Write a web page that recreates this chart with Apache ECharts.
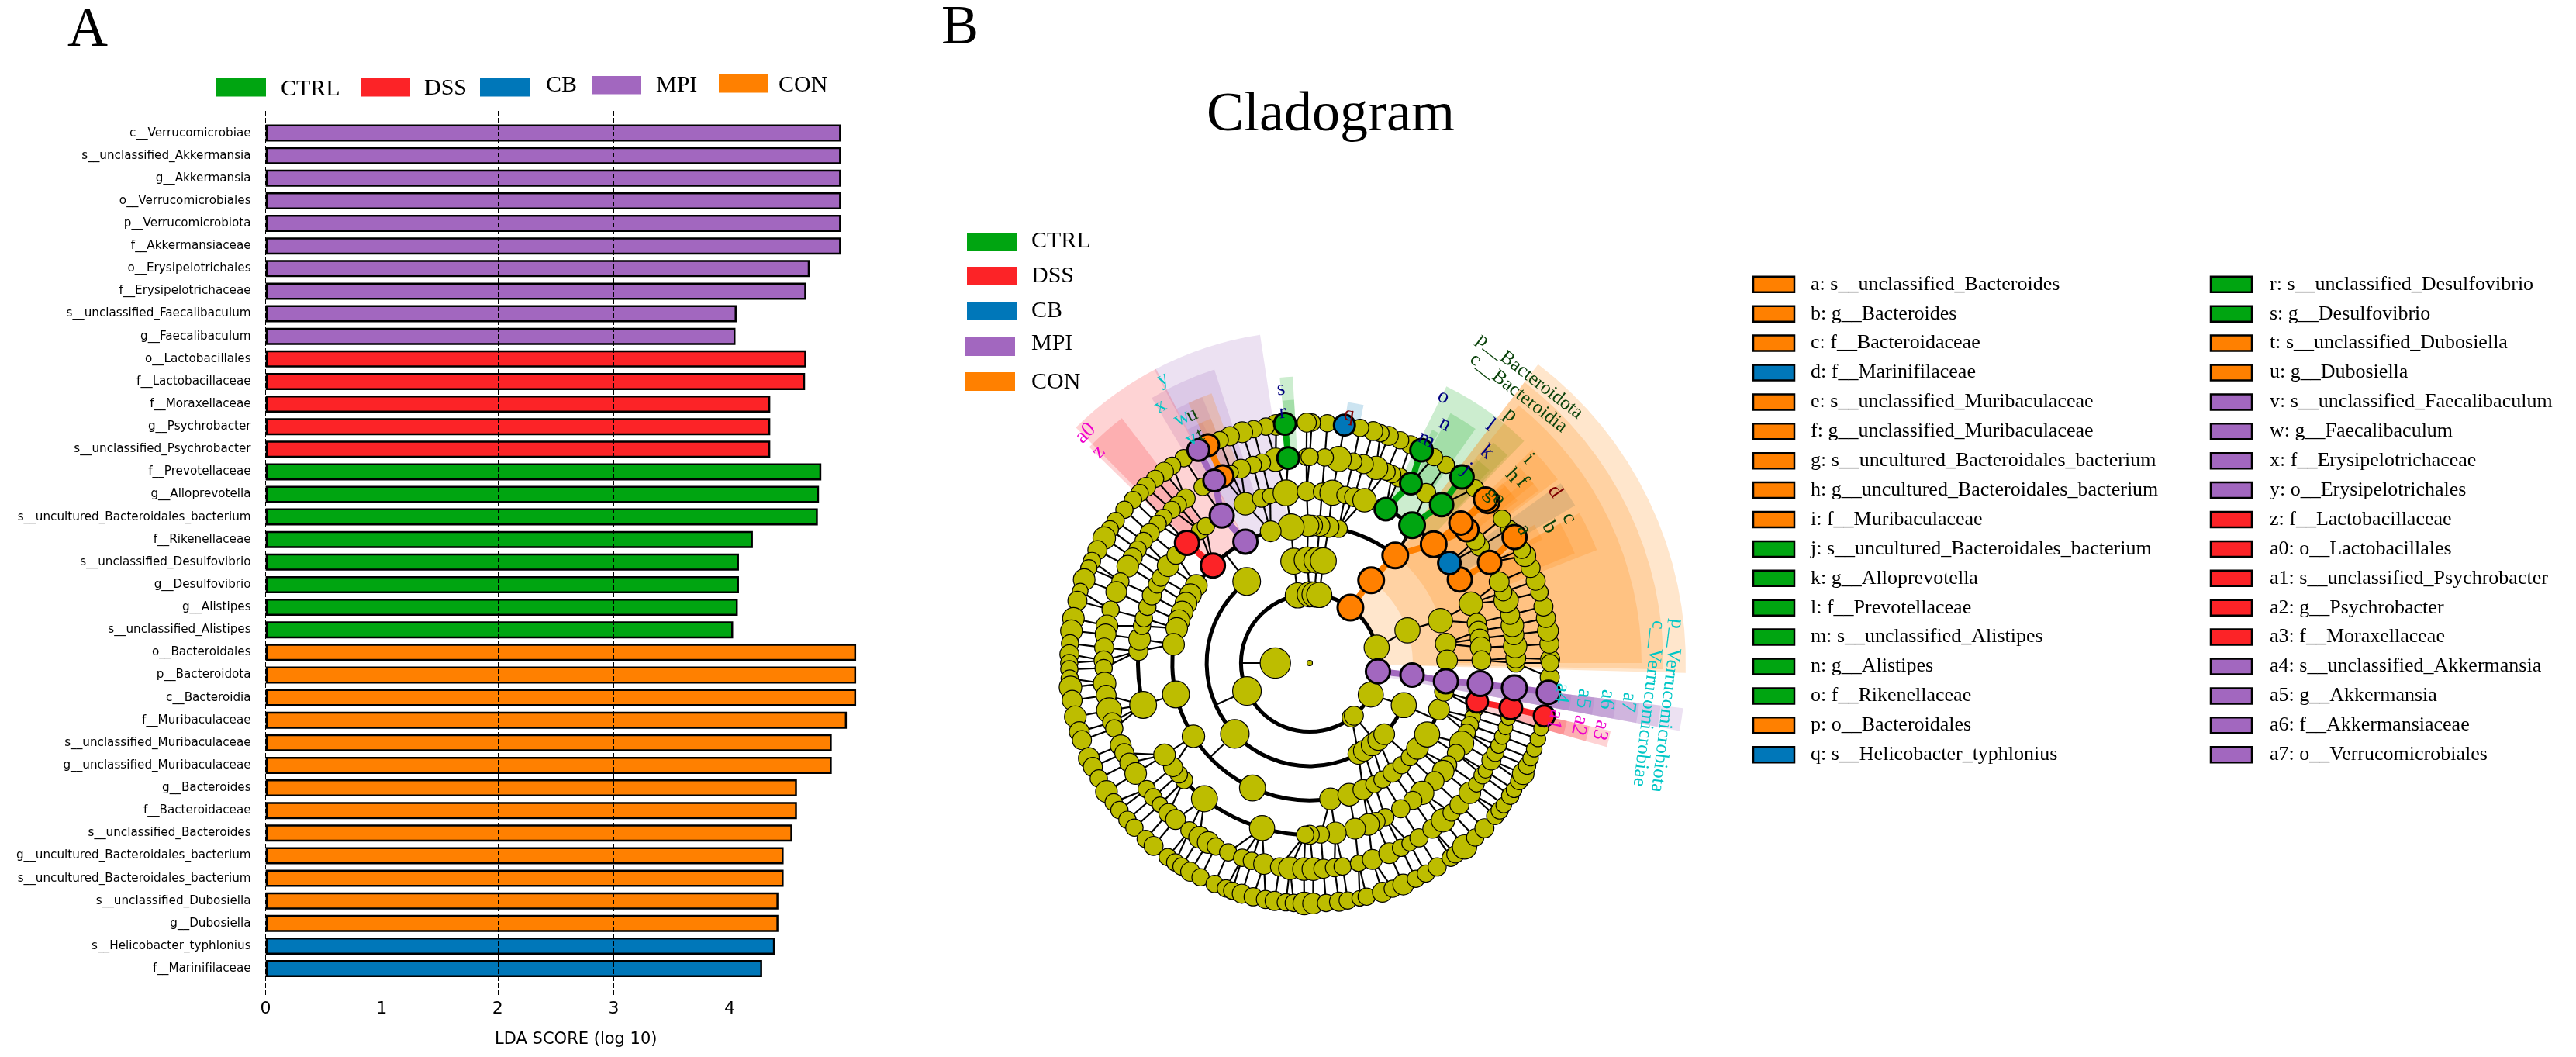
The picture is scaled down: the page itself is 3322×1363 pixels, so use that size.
<!DOCTYPE html>
<html><head><meta charset="utf-8">
<style>html,body{margin:0;padding:0;background:#fff}#c{width:3322px;height:1363px}</style>
<script src="https://cdn.jsdelivr.net/npm/echarts@6/dist/echarts.min.js"></script>
</head><body><div id="c"></div>
<script>
/* ---------- panel A data ---------- */
const barLabels = ['c__Verrucomicrobiae','s__unclassified_Akkermansia','g__Akkermansia','o__Verrucomicrobiales','p__Verrucomicrobiota','f__Akkermansiaceae','o__Erysipelotrichales','f__Erysipelotrichaceae','s__unclassified_Faecalibaculum','g__Faecalibaculum','o__Lactobacillales','f__Lactobacillaceae','f__Moraxellaceae','g__Psychrobacter','s__unclassified_Psychrobacter','f__Prevotellaceae','g__Alloprevotella','s__uncultured_Bacteroidales_bacterium','f__Rikenellaceae','s__unclassified_Desulfovibrio','g__Desulfovibrio','g__Alistipes','s__unclassified_Alistipes','o__Bacteroidales','p__Bacteroidota','c__Bacteroidia','f__Muribaculaceae','s__unclassified_Muribaculaceae','g__unclassified_Muribaculaceae','g__Bacteroides','f__Bacteroidaceae','s__unclassified_Bacteroides','g__uncultured_Bacteroidales_bacterium','s__uncultured_Bacteroidales_bacterium','s__unclassified_Dubosiella','g__Dubosiella','s__Helicobacter_typhlonius','f__Marinifilaceae'];
const barValues = [4.96,4.96,4.96,4.96,4.96,4.96,4.69,4.66,4.06,4.05,4.66,4.65,4.35,4.35,4.35,4.79,4.77,4.76,4.20,4.08,4.08,4.07,4.03,5.09,5.09,5.09,5.01,4.88,4.88,4.58,4.58,4.54,4.465,4.465,4.42,4.42,4.39,4.28];
const barGroups = ['MPI','MPI','MPI','MPI','MPI','MPI','MPI','MPI','MPI','MPI','DSS','DSS','DSS','DSS','DSS','CTRL','CTRL','CTRL','CTRL','CTRL','CTRL','CTRL','CTRL','CON','CON','CON','CON','CON','CON','CON','CON','CON','CON','CON','CON','CON','CB','CB'];
const xTicks = [0,1,2,3,4];
const groupNames = ['CTRL','DSS','CB','MPI','CON'];

/* ---------- panel B data: [angle in degrees, node size, group (if enriched)] per taxonomic level ---------- */
const level0 = [[0,7]];
const level1 = [[180,35]];
const level2 = [[204,33],[53.7,33,'CON'],[13,29],[-7,31,'MPI'],[-27.3,29],[-52.4,22],[-50,22],[100,29],[90,29],[86,29],[82,29]];
const level3 = [[127.7,32],[98.9,30],[91.4,30],[86,30],[82.4,30],[223.4,33],[298.2,24],[301.7,24],[307.3,25],[311.7,24],[316.3,24],[335.9,29],[-6.7,30,'MPI'],[18.5,29],[53.4,33,'CON']];
const level4 = [[51.5,33,'CON'],[77.8,20],[82.1,24],[85.9,24],[89,24],[90.7,25],[97.8,30],[106.5,24],[117.9,31,'MPI'],[134.8,31,'DSS'],[145.6,25],[150.2,25],[154.2,25],[158.2,25],[162,25],[165.4,25],[172.2,25],[193.2,31],[212.2,26],[245.4,30],[-81.3,25],[-73.3,26],[-67.2,23],[-61.9,20],[-58,20],[-52.9,22],[-48,20],[-43.2,20],[-38.4,25],[-31.3,29],[-19.8,24],[-7.6,31,'MPI'],[-12,22],[18,28],[8.1,24],[1.1,24]];
const level5 = [[53.4,33,'CTRL'],[63.7,29,'CTRL'],[43.8,33,'CON'],[35.6,29,'CB'],[29.1,31,'CON'],[20.2,27],[13.5,22],[10.8,22],[8.2,22],[5.2,24],[0.9,22],[-6.9,32,'MPI'],[-13,28,'DSS'],[-15.5,19],[-18.4,18],[-21.2,20],[-23.9,20],[-27.8,28],[-31.6,20],[-36.3,20],[-39,25],[-43.4,22],[-49.1,27],[-53.1,21],[-58,21],[-63.9,20],[-67.3,21],[-70,25],[-74.7,24],[-81.4,25],[-86.3,20],[-90,22],[268.5,20],[253.9,29],[232.2,30],[223,20],[220.4,20],[217.3,22],[212.3,25],[194.1,31],[176,22],[172,25],[167.5,20],[164.9,20],[160.9,20],[156.8,22],[152.8,20],[150.2,20],[145.5,25],[141.1,21],[129.7,20],[127.2,20],[135.6,31,'DSS'],[120.8,31,'MPI'],[112,26],[106.3,21],[103.3,18],[97.9,30],[91,22],[85.9,20],[82.4,29],[78,20],[75,22],[71.4,27]];
const level6 = [[96,28,'CTRL'],[90.9,20],[99.5,27],[103.4,20],[106,20],[109.5,22],[112.3,16],[115,28,'CON'],[117.6,28,'MPI'],[121.3,20],[127,22],[129.8,20],[132,20],[135.2,20],[137.5,20],[140.9,22],[143.7,20],[146.6,20],[149.2,22],[152,25],[156.7,20],[159.8,24],[165,20],[169.6,25],[172,24],[175.7,22],[179.3,22],[181.4,20],[185.7,26],[189,23],[193.3,29],[196.7,22],[198.5,20],[203.5,24],[205.9,22],[208.9,22],[212.4,25],[217.7,20],[220.6,20],[223.4,18],[226.7,22],[229.4,23],[234.3,20],[237.7,25],[240.5,25],[242.9,20],[246.7,20],[250.9,20],[253.7,20],[257.2,24],[261.6,21],[264.5,26],[268.4,26],[271,26],[-86.2,22],[-83.1,21],[-80.8,20],[-76.3,19],[-72.3,23],[-67.3,24],[-63.7,20],[-61,18],[-58,21],[-53.5,22],[-49.7,27],[-46.5,20],[-43.4,22],[-39,25],[-36,18],[-33,20],[-31.5,17],[-28.2,22],[-25.8,20],[-23.6,18],[-20.9,18],[-18.2,17],[-15.5,17],[-12.6,29,'DSS'],[-6.9,32,'MPI'],[0,21],[1.4,23],[4.7,27],[7.9,23],[10.5,26],[13.5,22],[17.7,28],[20.1,20],[23.2,23],[29.2,30,'CON'],[34.4,22],[36.5,22],[40.3,30,'CON'],[42.8,30,'CON'],[50.2,30,'CTRL'],[55.6,22],[60.6,28,'CTRL'],[64.2,22],[66.4,20],[68.1,20],[71.2,27],[74.8,22],[77.8,20],[81.9,29],[85.8,20],[90,20]];
const level7 = [[0.9,22],[4.6,22],[7.7,24],[10.8,22],[13.6,22],[17.1,20],[20,22],[23.3,22],[26.5,25],[28.1,20],[31.6,31,'CON'],[33.9,20],[36.9,20],[42.2,30,'CON'],[43,30,'CON'],[46.6,20],[50.7,30,'CTRL'],[55.5,20],[58.9,20],[62.3,29,'CTRL'],[65.2,21],[67.9,20],[70.8,22],[72.9,20],[74.7,22],[77.9,20],[81.7,27,'CB'],[85.8,20],[89.5,20],[90.7,22],[95.9,28,'CTRL'],[98,24],[100.5,20],[103.5,20],[106.3,24],[109.4,22],[112,20],[115,28,'CON'],[117.6,28,'MPI'],[121.6,20],[124.9,20],[127.3,22],[130,20],[132.9,22],[135,20],[137.3,20],[140.4,20],[143.8,20],[146.2,20],[148.7,26],[152,22],[154.9,20],[156.7,19],[159.7,25],[162.6,18],[165,22],[169.3,25],[172.3,25],[175.3,20],[177.9,22],[180,20],[181.5,20],[183.7,20],[185.8,26],[188.9,23],[192.9,25],[196.6,23],[198.7,22],[203.3,24],[205.6,22],[208.7,20],[212.3,25],[215.4,20],[217.7,20],[220.7,20],[223.2,20],[227,20],[229.5,22],[233.8,20],[236,20],[237.8,20],[240.2,22],[243,20],[246.7,20],[249.6,20],[251.2,20],[253.6,22],[256.4,21],[259.4,21],[261.6,22],[264.3,20],[266.2,20],[268.7,26],[270.8,24],[-86.1,20],[-83,22],[-80.9,20],[-78,18],[-76.3,20],[-72.4,23],[-69.8,20],[-67.1,24],[-63.8,20],[-61.1,20],[-58,21],[-54.1,20],[-52.7,20],[-49.9,28],[-46.5,20],[-43.4,22],[-39.5,20],[-37.8,20],[-36.2,18],[-33.5,20],[-31.8,18],[-29.4,20],[-27.4,25],[-25.3,20],[-23.3,18],[-21,18],[-18.4,18],[-15.8,17],[-12.7,27,'DSS'],[-7,30,'MPI'],[-3.4,22],[0,20]];
const nodeLevels = [level0,level1,level2,level3,level4,level5,level6,level7];

/* thick sibling arcs: [level, from angle, to angle] */
const siblingArcs = [[2,0,360],[3,127.7,316],[3,316,336],[3,82.4,98.9],[4,51.5,340.2],[5,29.1,63.7],[5,71.4,106.3],[5,141.1,176],[5,176,194.1],[5,212.3,268.5]];
/* stems between inner levels: [level, angle on that level, angle on the next level, group] */
const innerStems = [[1,180,180],[2,204,204],[2,100,98.9],[2,90,91.4],[2,86,86],[2,82,82.4],[2,13,18.5],[2,-27.3,-24.1],[2,-50,-50],[2,-52.4,-61.8],[2,53.7,53.4,'CON'],[2,-7,-6.7,'MPI'],[3,127.7,127.7],[3,223.4,223.4],[3,98.9,97.8],[3,91.4,90.7],[3,86,85.9],[3,82.4,82.1],[3,18.5,18],[3,-24.1,-24.1],[3,298.2,-67.2],[3,301.7,-61.9],[3,307.3,-58],[3,311.7,-52.9],[3,316.3,-43.2],[3,53.4,51.5,'CON'],[3,-6.7,-7.6,'MPI'],[4,51.5,52.5],[4,117.9,120.8,'MPI'],[4,134.8,135.6,'DSS']];
/* shaded clades: [level, from angle, to angle, group] */
const cladeSectors = [
 [5,30.7,35.6,'CB'],[5,46,53.4,'CTRL'],[5,53.4,63.7,'CTRL'],[6,54.7,60.6,'CTRL'],[7,60.8,62.3,'CTRL'],[6,46.4,50.2,'CTRL'],[7,47,50.7,'CTRL'],
 [2,-1.5,52.6,'CON'],[3,-1,52.6,'CON'],[4,0,51,'CON'],[5,36.5,43.8,'CON'],[5,21.5,29.1,'CON'],
 [6,38.7,42.8,'CON'],[6,37,40.3,'CON'],[7,40,43,'CON'],[7,38,42.2,'CON'],[6,22.5,29.2,'CON'],[7,28,31.6,'CON'],
 [4,98.6,117.9,'MPI'],[5,108,120.8,'MPI'],[6,112,117.6,'MPI'],[7,114,117.6,'MPI'],[4,117.6,134.8,'DSS'],[5,127.5,135.6,'DSS'],[6,110,115,'CON'],[7,112,115,'CON'],
 [6,93.4,96,'CTRL'],[7,93.4,95.9,'CTRL'],[7,78.2,81.7,'CB'],
 [7,-15.8,-12.7,'DSS'],[6,-15.8,-12.7,'DSS'],[5,-15.8,-12.7,'DSS'],
 [7,-10.4,-6.9,'MPI'],[6,-10.4,-6.9,'MPI'],[5,-10.4,-6.9,'MPI'],[4,-10.4,-6.9,'MPI'],[3,-10.4,-6.9,'MPI'],[2,-10.4,-6.9,'MPI']];
/* clade labels: [text, distance from centre, angle, group] */
const cladeLabels = [['p__Bacteroidota',466,52.5,'CON'],['c__Bacteroidia',440,52.3,'CON'],['p__Verrucomicrobiota',464,-6.8,'MPI'],['c__Verrucomicrobiae',440,-6.8,'MPI'],
 ['a',325,31.9,'CON'],['b',355,29.5,'CON'],['c',383,29.2,'CON'],['d',386,35,'CB'],['e',323,40.9,'CON'],['f',360,40.4,'CON'],['g',320,43,'CON'],['h',356,42.8,'CON'],['i',386,43,'CON'],['j',322,51,'CTRL'],['k',355,50,'CTRL'],['l',385,52.8,'CTRL'],['m',325,62.4,'CTRL'],['n',354,60.5,'CTRL'],['o',384,63.3,'CTRL'],['p',412,51,'CON'],['q',324,81,'CB'],['r',325,96.2,'CTRL'],['s',355,96,'CTRL'],['t',326,115.6,'CON'],['u',354,115.4,'CON'],['v',326,117.8,'MPI'],['w',356,117.6,'MPI'],['x',383,120.2,'MPI'],['y',412,117.4,'MPI'],['z',385,135,'DSS'],['a0',414,134.3,'DSS'],['a1',324,-13,'DSS'],['a2',357,-13,'DSS'],['a3',385,-13,'DSS'],['a4',327,-6.8,'MPI'],['a5',356,-7.4,'MPI'],['a6',386,-7,'MPI'],['a7',414,-7,'MPI']];
/* key to the cladogram */
const keyColumn1 = [['a: s__unclassified_Bacteroides','CON'],['b: g__Bacteroides','CON'],['c: f__Bacteroidaceae','CON'],['d: f__Marinifilaceae','CB'],['e: s__unclassified_Muribaculaceae','CON'],['f: g__unclassified_Muribaculaceae','CON'],['g: s__uncultured_Bacteroidales_bacterium','CON'],['h: g__uncultured_Bacteroidales_bacterium','CON'],['i: f__Muribaculaceae','CON'],['j: s__uncultured_Bacteroidales_bacterium','CTRL'],['k: g__Alloprevotella','CTRL'],['l: f__Prevotellaceae','CTRL'],['m: s__unclassified_Alistipes','CTRL'],['n: g__Alistipes','CTRL'],['o: f__Rikenellaceae','CTRL'],['p: o__Bacteroidales','CON'],['q: s__Helicobacter_typhlonius','CB']];
const keyColumn2 = [['r: s__unclassified_Desulfovibrio','CTRL'],['s: g__Desulfovibrio','CTRL'],['t: s__unclassified_Dubosiella','CON'],['u: g__Dubosiella','CON'],['v: s__unclassified_Faecalibaculum','MPI'],['w: g__Faecalibaculum','MPI'],['x: f__Erysipelotrichaceae','MPI'],['y: o__Erysipelotrichales','MPI'],['z: f__Lactobacillaceae','DSS'],['a0: o__Lactobacillales','DSS'],['a1: s__unclassified_Psychrobacter','DSS'],['a2: g__Psychrobacter','DSS'],['a3: f__Moraxellaceae','DSS'],['a4: s__unclassified_Akkermansia','MPI'],['a5: g__Akkermansia','MPI'],['a6: f__Akkermansiaceae','MPI'],['a7: o__Verrucomicrobiales','MPI']];

/* ---------- styles and layout ---------- */
const COLORS = {CTRL:'#00A511',DSS:'#FC2327',CB:'#0077B9',MPI:'#A267BF',CON:'#FF8000'};
const LABEL_COLORS = {CTRL:'#000080',DSS:'#EE00CC',CB:'#800000',MPI:'#00C6C6',CON:'#0B430B'};
const YELLOW = '#BDBD00', SERIF = '"Liberation Serif","Times New Roman",serif', SANS = '"DejaVu Sans",sans-serif';
const RING = 44.3, CX = 1689, CY = 855, YELLOW_SCALE = 1.12;
const OUTER = {2:485,3:456,4:428,5:398,6:370,7:340};
const AX_L = 342.6, PX_PER_UNIT = 149.6, X_MAX = 5.35;
const AX_W = X_MAX*PX_PER_UNIT;

const norm = a => (a%360+360)%360;
function polarPx(params, api, r, a){ return api.coord([r, norm(a)]); }

/* links from outer nodes to their nearest node one level in */
const outerLinks = [];
[5,6,7].forEach(lv=>{
  nodeLevels[lv].forEach(n=>{
    let best=null, bd=1e9;
    nodeLevels[lv-1].forEach(p=>{
      let d=Math.abs(norm(n[0])-norm(p[0])); if(d>180)d=360-d;
      if(d<bd){bd=d;best=p;}
    });
    if(bd<=8){
      const same = n[2] && n[2]===best[2];
      outerLinks.push([lv-1,best[0],n[0],same?n[2]:null]);
    }
  });
});
const allStems = innerStems.concat(outerLinks);

const sectorSeries = {
  type:'custom', coordinateSystem:'polar', polarIndex:0, z:1, silent:true, clip:false,
  data: cladeSectors.map(s=>[s[0],s[1]]),
  renderItem(params, api){
    const s = cladeSectors[params.dataIndex];
    const cs = params.coordSys;
    return {type:'sector', shape:{cx:cs.cx,cy:cs.cy,r0:s[0]*RING,r:OUTER[s[0]],
      startAngle:-s[2]*Math.PI/180,endAngle:-s[1]*Math.PI/180,clockwise:true},
      style:{fill:COLORS[s[3]],opacity:0.2}};
  }
};
const arcSeries = {
  type:'custom', coordinateSystem:'polar', polarIndex:0, z:3, silent:true, clip:false,
  data: siblingArcs.map(s=>[s[0],s[1]]),
  renderItem(params, api){
    const s = siblingArcs[params.dataIndex];
    const cs = params.coordSys;
    return {type:'arc', shape:{cx:cs.cx,cy:cs.cy,r:s[0]*RING,
      startAngle:-s[2]*Math.PI/180,endAngle:-s[1]*Math.PI/180,clockwise:true},
      style:{stroke:'#000',lineWidth:5,fill:null}};
  }
};
const stemSeries = {
  type:'custom', coordinateSystem:'polar', polarIndex:0, z:3, silent:true, clip:false,
  data: allStems.map(s=>[s[0],s[1]]),
  renderItem(params, api){
    const s = allStems[params.dataIndex];
    const a = polarPx(params,api,s[0],s[1]), b = polarPx(params,api,s[0]+1,s[2]);
    return {type:'line', shape:{x1:a[0],y1:a[1],x2:b[0],y2:b[1]},
      style:{stroke:s[3]?COLORS[s[3]]:'#000',lineWidth:s[3]?8:2.2}};
  }
};
function nodeSeries(group, z){
  const data=[];
  nodeLevels.forEach((nodes,lv)=>nodes.forEach(n=>{
    if((n[2]||null)===group) data.push([lv,norm(n[0]),n[1]]);
  }));
  const k = group?1:YELLOW_SCALE;
  return {type:'scatter',coordinateSystem:'polar',polarIndex:0,z,silent:true,clip:false,
    data, symbol:'circle', symbolSize:v=>v[0]===0?v[2]:v[2]*k,
    itemStyle:{color:group?COLORS[group]:YELLOW,borderColor:'#000',borderWidth:group?3:1.2,opacity:1}};
}
const labelSeries = {
  type:'custom', coordinateSystem:'polar', polarIndex:0, z:20, silent:true, clip:false,
  data: cladeLabels.map(s=>[s[1]/RING,norm(s[2])]),
  renderItem(params, api){
    const s = cladeLabels[params.dataIndex];
    const p = api.coord([s[1]/RING,norm(s[2])]);
    const size = s[0].length>2 ? 25 : 27;
    return {type:'text', x:p[0], y:p[1], rotation:(s[2]-90)*Math.PI/180,
      style:{text:s[0],fill:LABEL_COLORS[s[3]],font:size+'px '+SERIF,align:'center',verticalAlign:'middle'}};
  }
};

/* ---------- page furniture ---------- */
const graphics = [];
const txt = (text,x,y,size,opt={})=>graphics.push({type:'text',x,y,silent:true,z:30,
  style:Object.assign({text,fill:'#000',font:size+'px '+SERIF,align:'left',verticalAlign:'middle'},opt)});
const box = (x,y,w,h,fill,stroke)=>graphics.push({type:'rect',silent:true,z:30,
  shape:{x,y,width:w,height:h},style:{fill,stroke:stroke||null,lineWidth:stroke?2.5:0}});
txt('A',113,40,72,{align:'center'});
txt('B',1238,37,72,{align:'center'});
txt('Cladogram',1716,149,72,{align:'center'});
[[279,101,362,115],[465,101,547,114],[619,101,704,110],[763,98,846,110],[927,96,1004,110]].forEach((p,i)=>{
  box(p[0],p[1],64,23.5,COLORS[groupNames[i]]); txt(groupNames[i],p[2],p[3],30);
});
[[1247,300,311],[1247,344,356],[1247,389,401],[1245,435,443],[1245,480,493]].forEach((p,i)=>{
  box(p[0],p[1],64,24,COLORS[groupNames[i]]); txt(groupNames[i],1330,p[2],30);
});
[[keyColumn1,2261,2335],[keyColumn2,2851,2927]].forEach(col=>{
  col[0].forEach((k,i)=>{
    const y=366.8+i*37.9;
    box(col[1],y-10,53,20,COLORS[k[1]],'#000');
    txt(k[0],col[2],y,26);
  });
});

/* ---------- chart ---------- */
const chart = echarts.init(document.getElementById('c'),null,{renderer:'canvas',width:3322,height:1363});
chart.setOption({
  animation:false, backgroundColor:'#fff',
  textStyle:{fontFamily:SANS},
  grid:[
    {left:AX_L,width:AX_W,top:157,height:1106.6,containLabel:false},
    {left:AX_L,width:AX_W,top:143,height:1140,containLabel:false}
  ],
  xAxis:[
    {gridIndex:0,type:'value',min:0,max:X_MAX,show:false},
    {gridIndex:1,type:'value',min:0,max:X_MAX,z:10,
     name:'LDA SCORE (log 10)',nameLocation:'middle',nameGap:47,
     nameTextStyle:{fontFamily:SANS,fontSize:21,color:'#000'},
     axisLine:{show:false},axisTick:{show:true,length:0,customValues:xTicks},
     axisLabel:{show:true,color:'#000',fontFamily:SANS,fontSize:22,margin:7,customValues:xTicks,formatter:v=>String(v)},
     splitLine:{show:true,lineStyle:{color:'#000',width:1,type:[6,3]}}}
  ],
  yAxis:[
    {gridIndex:0,type:'category',inverse:true,data:barLabels,
     axisLine:{show:false},axisTick:{show:false},
     axisLabel:{color:'#000',fontFamily:SANS,fontSize:15.2,margin:19,interval:0}},
    {gridIndex:1,type:'value',min:0,max:1,show:false}
  ],
  polar:{center:[CX,CY],radius:[0,RING*11]},
  radiusAxis:{min:0,max:11,show:false},
  angleAxis:{min:0,max:360,startAngle:0,clockwise:false,show:false},
  series:[
    {type:'bar',xAxisIndex:0,yAxisIndex:0,barWidth:22,z:2,silent:true,
     data:barValues.map((v,i)=>({value:v,itemStyle:{color:COLORS[barGroups[i]]}})),
     itemStyle:{borderColor:'#000',borderWidth:2.5}},
    sectorSeries,arcSeries,stemSeries,
    nodeSeries(null,5),nodeSeries('CON',6),nodeSeries('CB',7),nodeSeries('CTRL',7),nodeSeries('DSS',7),nodeSeries('MPI',8),
    labelSeries
  ],
  graphic:{elements:graphics}
});
</script></body></html>
